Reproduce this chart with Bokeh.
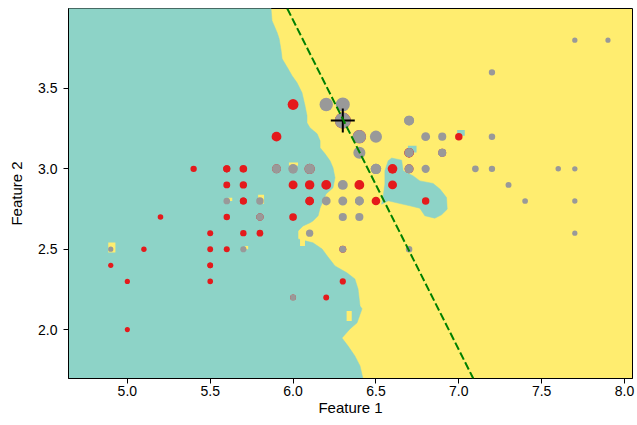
import numpy as np
from bokeh.plotting import figure
from bokeh.models import Range1d, FixedTicker, Slope, ColumnDataSource, NumeralTickFormatter
from bokeh.embed import file_html
from bokeh.resources import INLINE

# ---- data: iris sepal length (Feature 1) / sepal width (Feature 2) ----
versicolor_x = [7.0, 6.4, 6.9, 5.5, 6.5, 5.7, 6.3, 4.9, 6.6, 5.2, 5.0, 5.9, 6.0, 6.1, 5.6, 6.7, 5.6, 5.8, 6.2, 5.6,
                5.9, 6.1, 6.3, 6.1, 6.4, 6.6, 6.8, 6.7, 6.0, 5.7, 5.5, 5.5, 5.8, 6.0, 5.4, 6.0, 6.7, 6.3, 5.6, 5.5,
                5.5, 6.1, 5.8, 5.0, 5.6, 5.7, 5.7, 6.2, 5.1, 5.7]
versicolor_y = [3.2, 3.2, 3.1, 2.3, 2.8, 2.8, 3.3, 2.4, 2.9, 2.7, 2.0, 3.0, 2.2, 2.9, 2.9, 3.1, 3.0, 2.7, 2.2, 2.5,
                3.2, 2.8, 2.5, 2.8, 2.9, 3.0, 2.8, 3.0, 2.9, 2.6, 2.4, 2.4, 2.7, 2.7, 3.0, 3.4, 3.1, 2.3, 3.0, 2.5,
                2.6, 3.0, 2.6, 2.3, 2.7, 3.0, 2.9, 2.9, 2.5, 2.8]
virginica_x = [6.3, 5.8, 7.1, 6.3, 6.5, 7.6, 4.9, 7.3, 6.7, 7.2, 6.5, 6.4, 6.8, 5.7, 5.8, 6.4, 6.5, 7.7, 7.7, 6.0,
               6.9, 5.6, 7.7, 6.3, 6.7, 7.2, 6.2, 6.1, 6.4, 7.2, 7.4, 7.9, 6.4, 6.3, 6.1, 7.7, 6.3, 6.4, 6.0, 6.9,
               6.7, 6.9, 5.8, 6.8, 6.7, 6.7, 6.3, 6.5, 6.2, 5.9]
virginica_y = [3.3, 2.7, 3.0, 2.9, 3.0, 3.0, 2.5, 2.9, 2.5, 3.6, 3.2, 2.7, 3.0, 2.5, 2.8, 3.2, 3.0, 3.8, 2.6, 2.2,
               3.2, 2.8, 2.8, 2.7, 3.3, 3.2, 2.8, 3.0, 2.8, 3.0, 2.8, 3.8, 2.8, 2.8, 2.6, 3.0, 3.4, 3.1, 3.0, 3.1,
               3.1, 3.1, 2.7, 3.2, 3.3, 3.0, 2.5, 3.0, 3.4, 3.0]

query_x = 6.3
query_y = 3.3

# local linear surrogate boundary
surrogate_gradient = -2.05
surrogate_intercept = 16.225

# decision region boundary (teal class on the left), top to bottom
boundary_x = [5.867, 5.867, 5.873, 5.886, 5.904, 5.916, 5.928, 5.934, 5.970, 5.994, 6.024, 6.054, 6.072, 6.084,
              6.084, 6.102, 6.145, 6.163, 6.163, 6.193, 6.223, 6.241, 6.253, 6.241, 6.199, 6.163, 6.151, 6.120,
              6.102, 6.060, 6.030, 6.030, 6.072, 6.120, 6.175, 6.205, 6.253, 6.325, 6.373, 6.392, 6.404, 6.416,
              6.386, 6.343, 6.295, 6.331, 6.373, 6.404, 6.422, 6.422]
boundary_y = [4.050, 3.996, 3.921, 3.890, 3.846, 3.809, 3.734, 3.684, 3.622, 3.579, 3.535, 3.473, 3.392, 3.330,
              3.286, 3.255, 3.218, 3.174, 3.131, 3.093, 3.050, 3.006, 2.944, 2.882, 2.844, 2.757, 2.708, 2.676,
              2.664, 2.645, 2.614, 2.564, 2.552, 2.540, 2.502, 2.459, 2.396, 2.353, 2.315, 2.253, 2.147, 2.129,
              2.042, 2.004, 1.948, 1.899, 1.836, 1.774, 1.693, 1.650]
blob_x = [6.595, 6.655, 6.664, 6.725, 6.765, 6.845, 6.886, 6.926, 6.930, 6.896, 6.855, 6.795, 6.765, 6.705,
          6.645, 6.574, 6.534, 6.544, 6.554, 6.554, 6.574]
blob_y = [3.067, 3.054, 2.988, 2.956, 2.925, 2.909, 2.874, 2.821, 2.749, 2.714, 2.693, 2.708, 2.755, 2.770,
          2.784, 2.801, 2.780, 2.832, 2.905, 2.988, 3.050]
# small yellow islands inside teal area (left, right, bottom, top)
yellow_left = [4.885, 5.789, 5.975, 5.608, 5.711, 6.323, 6.042]
yellow_right = [4.928, 5.825, 6.030, 5.633, 5.729, 6.354, 6.072]
yellow_bottom = [2.479, 2.782, 3.019, 2.800, 2.500, 2.054, 2.520]
yellow_top = [2.541, 2.838, 3.039, 2.820, 2.520, 2.116, 2.564]
# small teal islands inside yellow area
teal_left = [6.990, 6.693]
teal_right = [7.036, 6.745]
teal_bottom = [3.205, 3.101]
teal_top = [3.241, 3.143]

x_lo, x_hi = 4.645, 8.048
y_lo, y_hi = 1.696, 3.997
x_ticks = [5.0, 5.5, 6.0, 6.5, 7.0, 7.5, 8.0]
y_ticks = [2.0, 2.5, 3.0, 3.5]

TEAL = "#8dd3c7"
YELLOW = "#ffed6f"
RED = "#e41a1c"
GRAY = "#999999"
FONT = "Liberation Sans"

p = figure(width=637, height=425, output_backend="svg", toolbar_location=None,
           x_range=Range1d(x_lo, x_hi), y_range=Range1d(y_lo, y_hi),
           min_border_left=68, min_border_right=5, min_border_top=8, min_border_bottom=47)
p.background_fill_color = YELLOW
p.border_fill_color = "white"
p.grid.visible = False
p.outline_line_color = "black"
p.outline_line_width = 1

# teal region
p.patch(x=[x_lo - 1] + boundary_x + [x_lo - 1], y=[boundary_y[0]] + boundary_y + [boundary_y[-1]],
        fill_color=TEAL, line_color=TEAL, line_width=0.5)
p.patch(x=blob_x, y=blob_y, fill_color=TEAL, line_color=TEAL, line_width=0.5)
p.quad(left=yellow_left, right=yellow_right, bottom=yellow_bottom, top=yellow_top,
       fill_color=YELLOW, line_color=None)
p.quad(left=teal_left, right=teal_right, bottom=teal_bottom, top=teal_top,
       fill_color=TEAL, line_color=None)

# points, sized by proximity to the explained instance
def sizes(xs, ys):
    r = np.hypot(np.array(xs) - query_x, np.array(ys) - query_y)
    return np.sqrt(25 + 230 * np.exp(-r / 0.35))

src_v = ColumnDataSource(dict(x=versicolor_x, y=versicolor_y, s=sizes(versicolor_x, versicolor_y)))
src_g = ColumnDataSource(dict(x=virginica_x, y=virginica_y, s=sizes(virginica_x, virginica_y)))
p.scatter("x", "y", size="s", source=src_v, fill_color=RED, line_color=None)
p.scatter("x", "y", size="s", source=src_g, fill_color=GRAY, line_color=None)

p.add_layout(Slope(gradient=surrogate_gradient, y_intercept=surrogate_intercept,
                   line_color="green", line_dash="8 3", line_width=2))

p.scatter(x=[query_x], y=[query_y], marker="cross", size=24, line_color="black", line_width=2)

# axes
p.xaxis.ticker = FixedTicker(ticks=x_ticks)
p.yaxis.ticker = FixedTicker(ticks=y_ticks)
p.xaxis.formatter = NumeralTickFormatter(format="0.0")
p.yaxis.formatter = NumeralTickFormatter(format="0.0")
p.xaxis.axis_label = "Feature 1"
p.yaxis.axis_label = "Feature 2"
for ax in (p.xaxis, p.yaxis):
    ax.axis_line_color = "black"
    ax.major_tick_line_color = "black"
    ax.major_tick_out = 5
    ax.major_tick_in = 0
    ax.minor_tick_line_color = None
    ax.major_label_text_font = FONT
    ax.major_label_text_font_size = "14px"
    ax.major_label_text_color = "black"
    ax.axis_label_text_font = FONT
    ax.axis_label_text_font_size = "15px"
    ax.axis_label_text_font_style = "normal"
    ax.axis_label_text_color = "black"
p.xaxis.major_label_standoff = 2
p.xaxis.axis_label_standoff = 0
p.yaxis.major_label_standoff = 6
p.yaxis.axis_label_standoff = 10

open("out.html", "w").write(file_html(p, INLINE))
